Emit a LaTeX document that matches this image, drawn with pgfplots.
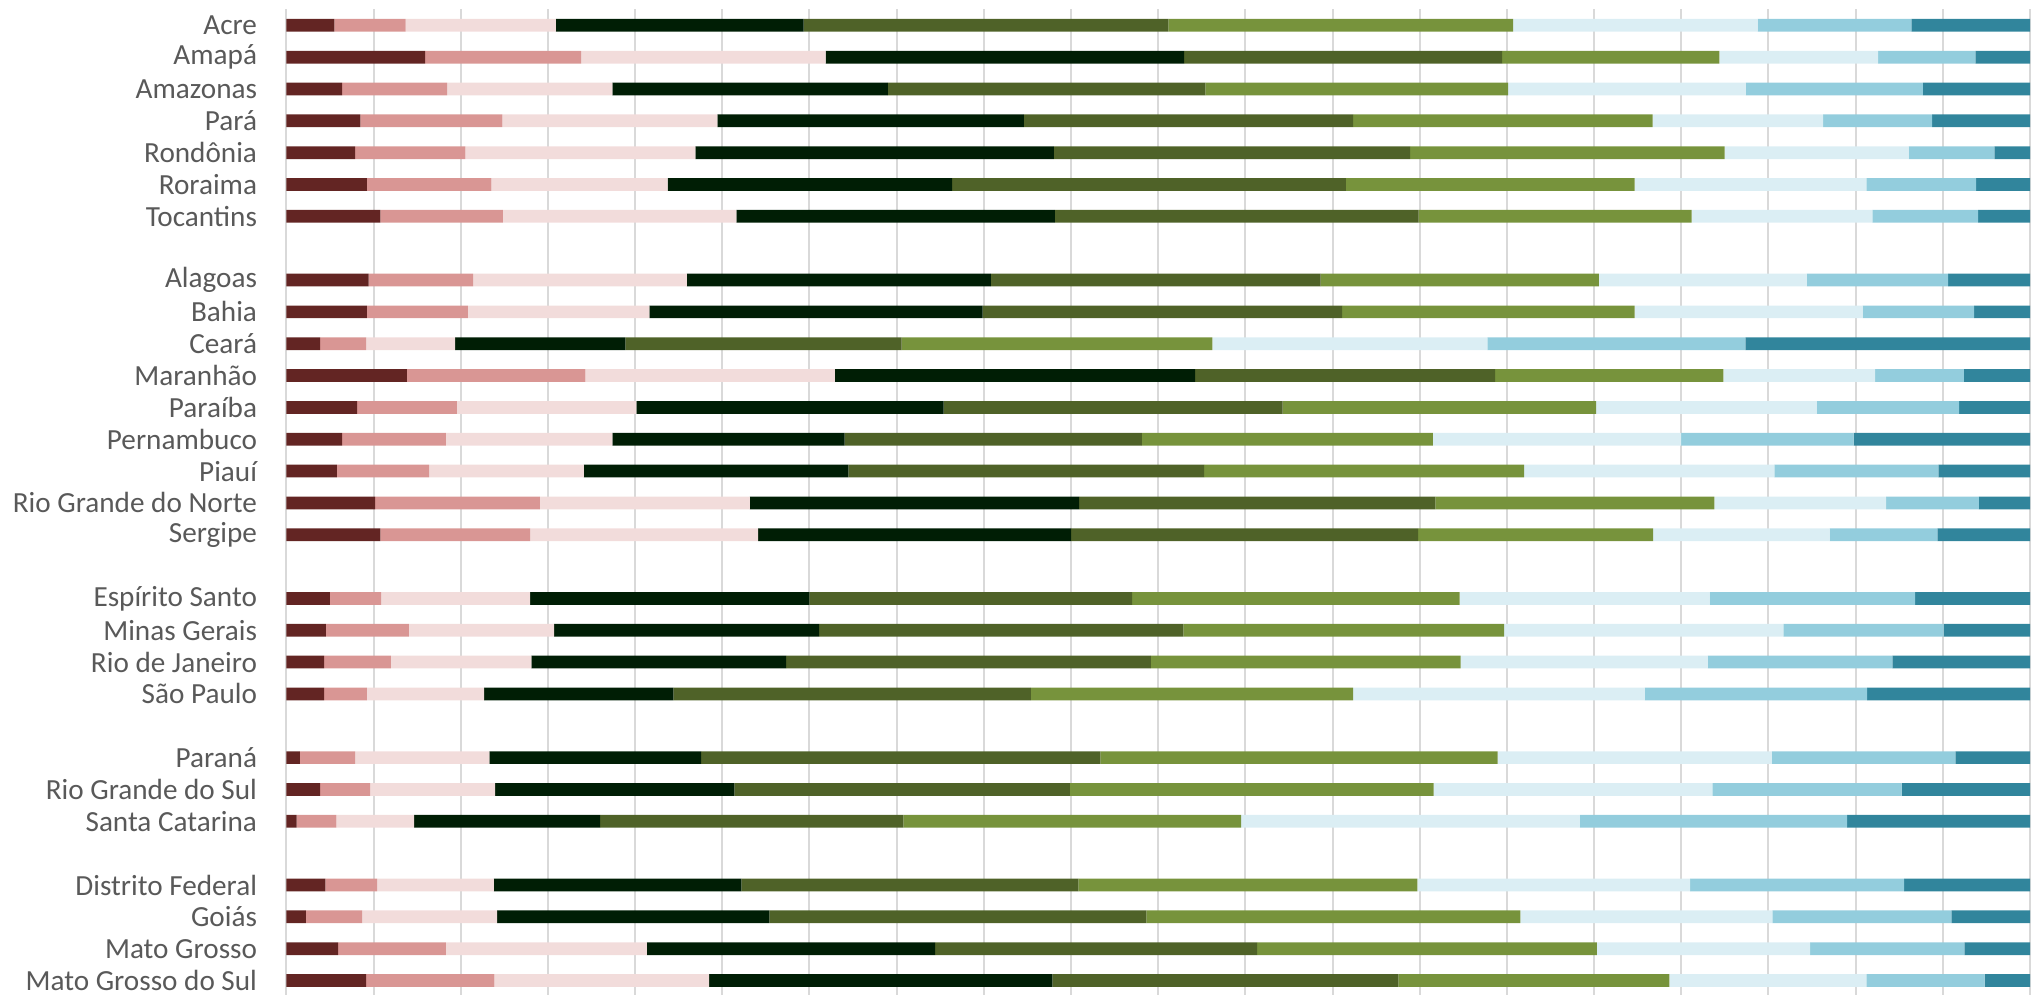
\documentclass[border=0pt]{standalone}
\usepackage{pgfplots}
\pgfplotsset{compat=1.18}
\usepackage{pgfplotstable}
\usepackage{fontspec}
\setmainfont{Carlito}

\definecolor{labelgray}{HTML}{595959}
\definecolor{cA}{HTML}{632523}
\definecolor{cB}{HTML}{D99694}
\definecolor{cC}{HTML}{F2DCDB}
\definecolor{cD}{HTML}{001E05}
\definecolor{cE}{HTML}{4F6228}
\definecolor{cF}{HTML}{77933C}
\definecolor{cG}{HTML}{DBEEF4}
\definecolor{cH}{HTML}{93CDDD}
\definecolor{cI}{HTML}{31859C}

% share of each band per state (percent), slot = row from the top
\pgfplotstableread{
slot s1   s2    s3    s4    s5    s6    s7    s8    s9
1    2.75 4.09  8.62  14.21 20.92 19.77 14.02 8.81  6.81
2    7.96 8.95  14.02 20.55 18.25 12.45 9.11  5.58  3.13
3    3.20 6.02  9.48  15.80 18.20 17.37 13.64 10.15 6.14
4    4.24 8.14  12.34 17.58 18.88 17.18 9.77  6.25  5.62
5    3.94 6.32  13.20 20.55 20.44 18.03 10.56 4.91  2.05
6    4.61 7.14  10.11 16.32 22.59 16.55 13.30 6.29  3.09
7    5.39 7.03  13.38 18.28 20.86 15.65 10.37 6.06  2.98
9    4.72 5.99  12.26 17.44 18.91 15.95 11.93 8.11  4.69
10   4.61 5.80  10.41 19.11 20.62 16.77 13.08 6.39  3.21
11   1.93 2.64  5.10  9.77  15.84 17.83 15.77 14.79 16.33
12   6.91 10.23 14.31 20.66 17.21 13.09 8.70  5.09  3.80
13   4.05 5.73  10.29 17.63 19.43 17.99 12.64 8.18  4.06
14   3.20 5.94  9.56  13.31 17.05 16.69 14.24 9.89  10.12
15   2.90 5.28  8.88  15.17 20.40 18.36 14.35 9.41  5.25
16   5.09 9.45  12.04 18.88 20.44 15.99 9.85  5.32  2.94
17   5.39 8.59  13.08 17.95 19.89 13.49 10.11 6.18  5.32
19   2.49 2.94  8.55  16.02 18.50 18.78 14.35 11.78 6.59
20   2.27 4.76  8.32  15.21 20.88 18.40 16.02 9.19  4.95
21   2.16 3.83  8.06  14.61 20.92 17.77 14.17 10.59 7.89
22   2.16 2.45  6.73  10.85 20.51 18.48 16.73 12.75 9.34
24   0.78 3.16  7.70  12.15 22.89 22.79 15.73 10.52 4.28
25   1.93 2.87  7.17  13.72 19.25 20.85 15.99 10.85 7.37
26   0.59 2.27  4.46  10.67 17.40 19.36 19.44 15.32 10.49
28   2.23 2.97  6.70  14.20 19.32 19.44 15.65 12.27 7.22
29   1.12 3.23  7.73  15.62 21.62 21.45 14.46 10.26 4.51
30   2.97 6.17  11.53 16.54 18.47 19.48 12.23 8.85  3.76
31   4.57 7.36  12.31 19.69 19.85 15.54 11.30 6.77  2.61
}\shares

\begin{document}
\begin{tikzpicture}
\begin{axis}[
    at={(0,0)}, anchor=south west,
    scale only axis,
    width=871.8pt, height=493.5pt,
    xbar stacked,
    bar width=0.4,
    xmin=0, xmax=100,
    ymin=0.5, ymax=31.5,
    y dir=reverse,
    xtick={0,5,...,100},
    xticklabels={},
    xmajorgrids=true,
    grid style={draw=black!15, line width=1pt},
    axis line style={draw=none},
    major tick length=0pt,
    ytick={1,2,3,4,5,6,7,9,10,11,12,13,14,15,16,17,19,20,21,22,24,25,26,28,29,30,31},
    yticklabels={Acre,Amapá,Amazonas,Pará,Rondônia,Roraima,Tocantins,
      Alagoas,Bahia,Ceará,Maranhão,Paraíba,Pernambuco,Piauí,Rio Grande do Norte,Sergipe,
      Espírito Santo,Minas Gerais,Rio de Janeiro,São Paulo,
      Paraná,Rio Grande do Sul,Santa Catarina,
      Distrito Federal,Goiás,Mato Grosso,Mato Grosso do Sul},
    yticklabel style={font=\fontsize{14.6}{14.6}\selectfont, text=labelgray,
      inner sep=0pt, xshift=-14.5pt},
    every axis plot/.append style={draw=none},
]
\addplot [fill=cA] table [x=s1, y=slot] {\shares};
\addplot [fill=cB] table [x=s2, y=slot] {\shares};
\addplot [fill=cC] table [x=s3, y=slot] {\shares};
\addplot [fill=cD] table [x=s4, y=slot] {\shares};
\addplot [fill=cE] table [x=s5, y=slot] {\shares};
\addplot [fill=cF] table [x=s6, y=slot] {\shares};
\addplot [fill=cG] table [x=s7, y=slot] {\shares};
\addplot [fill=cH] table [x=s8, y=slot] {\shares};
\addplot [fill=cI] table [x=s9, y=slot] {\shares};
\end{axis}
\pgfresetboundingbox
\path (-143.2pt,0.75pt) rectangle (872.8pt,498.2pt);
\end{tikzpicture}
\end{document}
